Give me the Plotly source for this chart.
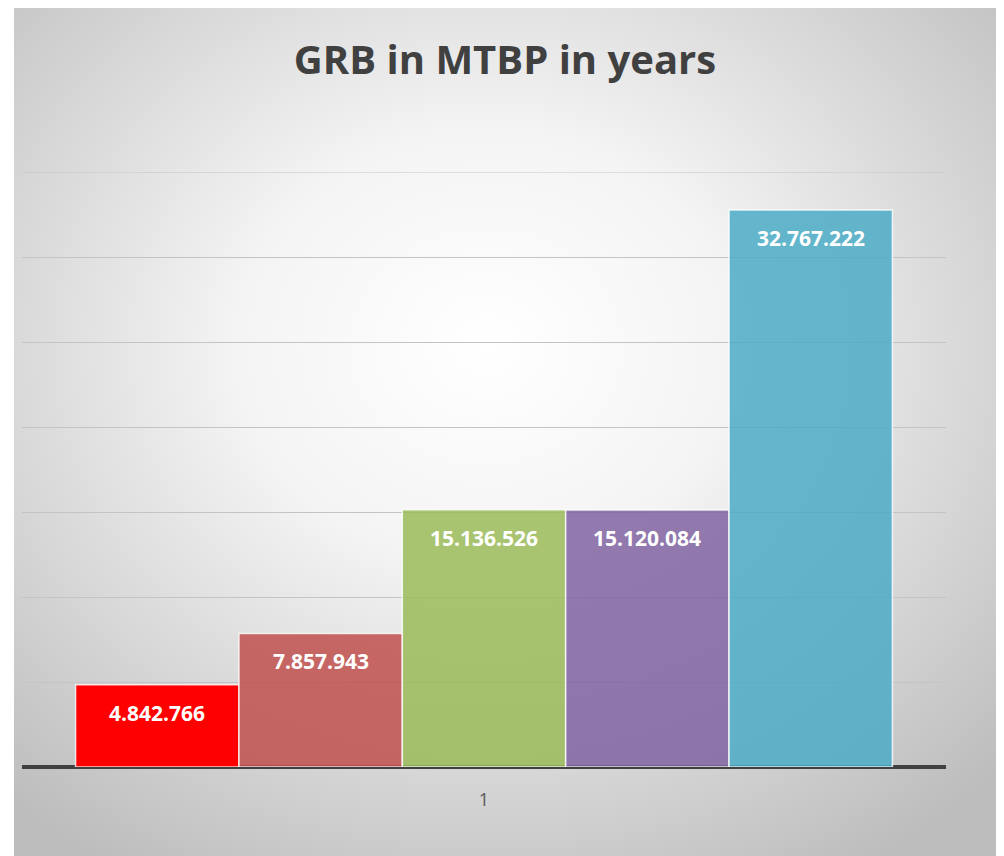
import base64
import plotly.graph_objects as go

# ---- data ----
series_names = ["Serie 1", "Serie 2", "Serie 3", "Serie 4", "Serie 5"]
category = [1]
values = [4842766, 7857943, 15136526, 15120084, 32767222]
colors = ["rgb(255,0,0)", "rgba(192,80,77,0.85)", "rgba(155,187,89,0.85)",
          "rgba(128,100,162,0.85)", "rgba(75,172,198,0.85)"]
title_text = "GRB in MTBP in years"
y_max = 35000000
y_step = 5000000

# page body adds an 8px offset
OFF = 8
W, H = 1004 - OFF, 856 - OFF
ml, mt = 22 - OFF, 172 - OFF
mr = W - (946 - OFF)
mb = H - (767 - OFF)
bargap = 0.116

fig = go.Figure()
for name, v, c in zip(series_names, values, colors):
    fig.add_trace(go.Bar(
        name=name, x=category, y=[v],
        marker=dict(color=c, line=dict(color="rgba(255,255,255,0.8)", width=1.5)),
        hoverinfo="y",
    ))

# data labels placed at each bar's centre via the group layout
n = len(values)
group_w = 1 - bargap
for i, v in enumerate(values):
    xpos = category[0] + (i - (n - 1) / 2) * group_w / n
    fig.add_annotation(
        x=xpos, y=v, xref="x", yref="y",
        text=f"{v:,}".replace(",", "."),
        showarrow=False, yanchor="top", yshift=-12,
        font=dict(family="Open Sans", size=21, color="white", weight="bold"),
    )

# top gridline at the axis maximum
fig.add_shape(type="line", xref="paper", yref="y", x0=0, x1=1, y0=y_max, y1=y_max,
              line=dict(color="#c4c4c4", width=1.2), layer="below")

# radial gradient background panel
svg = (
    '<svg xmlns="http://www.w3.org/2000/svg" width="984" height="850" viewBox="0 0 984 850">'
    '<defs><radialGradient id="g" cx="0.48" cy="0.40" r="0.72">'
    '<stop offset="0" stop-color="#ffffff"/>'
    '<stop offset="0.35" stop-color="#f4f4f4"/>'
    '<stop offset="1" stop-color="#bdbdbd"/>'
    '</radialGradient></defs>'
    '<rect width="984" height="850" fill="url(#g)"/>'
    '</svg>'
)
src = "data:image/svg+xml;base64," + base64.b64encode(svg.encode()).decode()
pw, ph = W - ml - mr, H - mt - mb
px0, py0, px1, py1 = 14 - OFF, 6 - OFF, 998 - OFF, 856 - OFF
fig.add_layout_image(
    source=src, xref="paper", yref="paper",
    x=(px0 - ml) / pw, y=(H - mb - py0) / ph,
    sizex=(px1 - px0) / pw, sizey=(py1 - py0) / ph,
    xanchor="left", yanchor="top", sizing="stretch", layer="below",
)

fig.update_layout(
    width=W, height=H,
    margin=dict(l=ml, r=mr, t=mt, b=mb),
    paper_bgcolor="white", plot_bgcolor="rgba(0,0,0,0)",
    barmode="group", bargap=bargap, bargroupgap=0,
    showlegend=False,
    separators=",.",
    title=dict(text=title_text, x=(505 - OFF) / W, xanchor="center",
               y=1 - (60 - OFF) / H, yanchor="middle", yref="container",
               font=dict(family="Open Sans", size=40, color="#404040", weight="bold")),
    xaxis=dict(range=[0.5, 1.5], tickvals=category, ticktext=[str(c) for c in category],
               ticks="outside", ticklen=16, tickcolor="rgba(0,0,0,0)",
               showgrid=False, showline=False, zeroline=False,
               tickfont=dict(family="Open Sans", size=18, color="#595959")),
    yaxis=dict(range=[0, y_max], dtick=y_step, showticklabels=False,
               showgrid=True, gridcolor="#c4c4c4", gridwidth=1.2,
               zeroline=True, zerolinecolor="#404040", zerolinewidth=3.5,
               showline=False),
)

fig.write_html("out.html")
